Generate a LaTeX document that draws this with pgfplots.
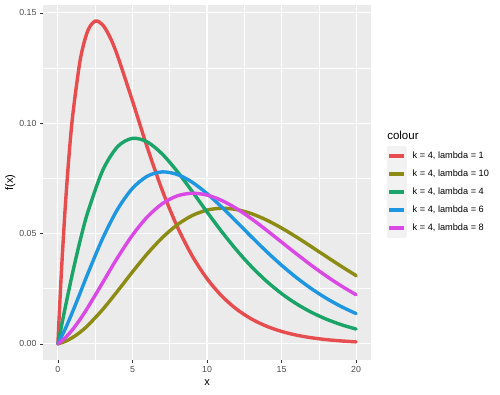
\documentclass[border=0pt]{standalone}
\usepackage{pgfplots}
\pgfplotsset{compat=1.18}
\usepackage{fontspec}
\setmainfont{Liberation Sans}
\definecolor{cR}{RGB}{231,76,78}
\definecolor{cO}{RGB}{140,140,20}
\definecolor{cG}{RGB}{26,164,104}
\definecolor{cB}{RGB}{30,150,225}
\definecolor{cM}{RGB}{218,72,230}
\definecolor{panel}{HTML}{EBEBEB}
\definecolor{keybg}{HTML}{F2F2F2}
\definecolor{ticklab}{HTML}{4D4D4D}
\definecolor{tickc}{HTML}{333333}
\begin{document}
\begin{tikzpicture}
\useasboundingbox (0,0) rectangle (500pt,395pt);
\begin{axis}[
  at={(43pt,35pt)}, anchor=south west,
  width=328pt, height=355pt, scale only axis,
  xmin=-1, xmax=21, ymin=-0.0073, ymax=0.1536,
  axis background/.style={fill=panel},
  axis line style={draw=none},
  xtick={0,5,10,15,20}, xticklabels={0,5,10,15,20},
  ytick={0,0.05,0.10,0.15}, yticklabels={0.00,0.05,0.10,0.15},
  minor xtick={2.5,7.5,12.5,17.5}, minor ytick={0.025,0.075,0.125},
  xtick pos=left, ytick pos=left, tick align=outside,
  major tick length=3pt, minor tick length=0pt,
  tick style={tickc, line width=0.6pt},
  ticklabel style={font=\fontsize{8.8}{10}\selectfont, text=ticklab},
  grid=both,
  major grid style={white, line width=1.1pt},
  minor grid style={white, line width=0.55pt},
  xlabel={x}, ylabel={f(x)},
  label style={font=\fontsize{11}{13}\selectfont},
  xlabel style={at={(axis description cs:0.5,-0.065)}, anchor=center},
  ylabel style={at={(axis description cs:-0.1,0.5)}, anchor=center},
  legend style={at={(1.0397,0.592)}, anchor=north west, draw=none, fill=none,
    font=\fontsize{9.2}{10}\selectfont,
    nodes={inner sep=0pt, text height=6.5pt, text depth=2pt},
    row sep=9.5pt, column sep=6.5pt},
  legend cell align=left,
  legend image code/.code={
    \fill[keybg, overlay] (-1pt,-8.5pt) rectangle (16pt,8.5pt);
    \draw[#1, line width=4pt, line cap=butt] (0pt,0pt) -- (15pt,0pt);},
  every axis plot/.append style={line width=3.4pt, line cap=round, line join=round, smooth},
  clip=false,
]
\addplot[cR] table {
0 0
0.1 0.014604
0.25 0.034510
0.5 0.062814
0.75 0.085721
1 0.103955
1.5 0.128882
2 0.141880
2.5 0.146274
3 0.144631
3.5 0.138904
4 0.130568
5 0.110133
6 0.088906
7 0.069583
8 0.053209
9 0.039956
10 0.029569
11 0.021619
12 0.015647
13 0.011223
14 0.0079896
15 0.0056486
16 0.0039715
17 0.0027769
18 0.0019322
19 0.0013387
20 0.00092372
};
\addlegendentry{k = 4, lambda = 1}
\addplot[cO] table {
0 0
0.5 0.0011608
1 0.0029569
1.5 0.0053591
2 0.0083155
3 0.015557
4 0.023928
5 0.032616
6 0.040881
7 0.048133
8 0.053965
9 0.058152
10 0.060632
11 0.061481
12 0.060855
13 0.058985
14 0.056122
15 0.052522
16 0.048427
17 0.044059
18 0.039593
19 0.035186
20 0.030947
};
\addlegendentry{k = 4, lambda = 10}
\addplot[cG] table {
0 0
0.5 0.016755
1 0.032642
1.5 0.047054
2 0.059616
3 0.078570
4 0.089377
5 0.093169
6 0.091512
7 0.086040
8 0.078201
9 0.069167
10 0.059819
11 0.050763
12 0.042381
13 0.034887
14 0.028362
15 0.022805
16 0.018154
17 0.014323
18 0.011209
19 0.0087074
20 0.0067168
};
\addlegendentry{k = 4, lambda = 4}
\addplot[cB] table {
0 0
0.5 0.0069063
1 0.014818
1.5 0.023244
2 0.031769
3 0.047796
4 0.061007
5 0.070482
6 0.076027
7 0.077951
8 0.076805
9 0.073302
10 0.068135
11 0.061930
12 0.055216
13 0.048408
14 0.041820
15 0.035654
16 0.030041
17 0.025041
18 0.020672
19 0.016914
20 0.013726
};
\addlegendentry{k = 4, lambda = 6}
\addplot[cM] table {
0 0
0.5 0.0028361
1 0.0066512
1.5 0.011256
2 0.016440
3 0.027753
4 0.039101
5 0.049312
6 0.057603
7 0.063556
8 0.067071
9 0.068278
10 0.067457
11 0.064978
12 0.061244
13 0.056634
14 0.051502
15 0.046137
16 0.040781
17 0.035610
18 0.030753
19 0.026293
20 0.022271
};
\addlegendentry{k = 4, lambda = 8}
\node[anchor=west, font=\fontsize{11.5}{13}\selectfont, inner sep=0pt] at (rel axis cs:1.049,0.633) {colour};
\end{axis}
\end{tikzpicture}
\end{document}
